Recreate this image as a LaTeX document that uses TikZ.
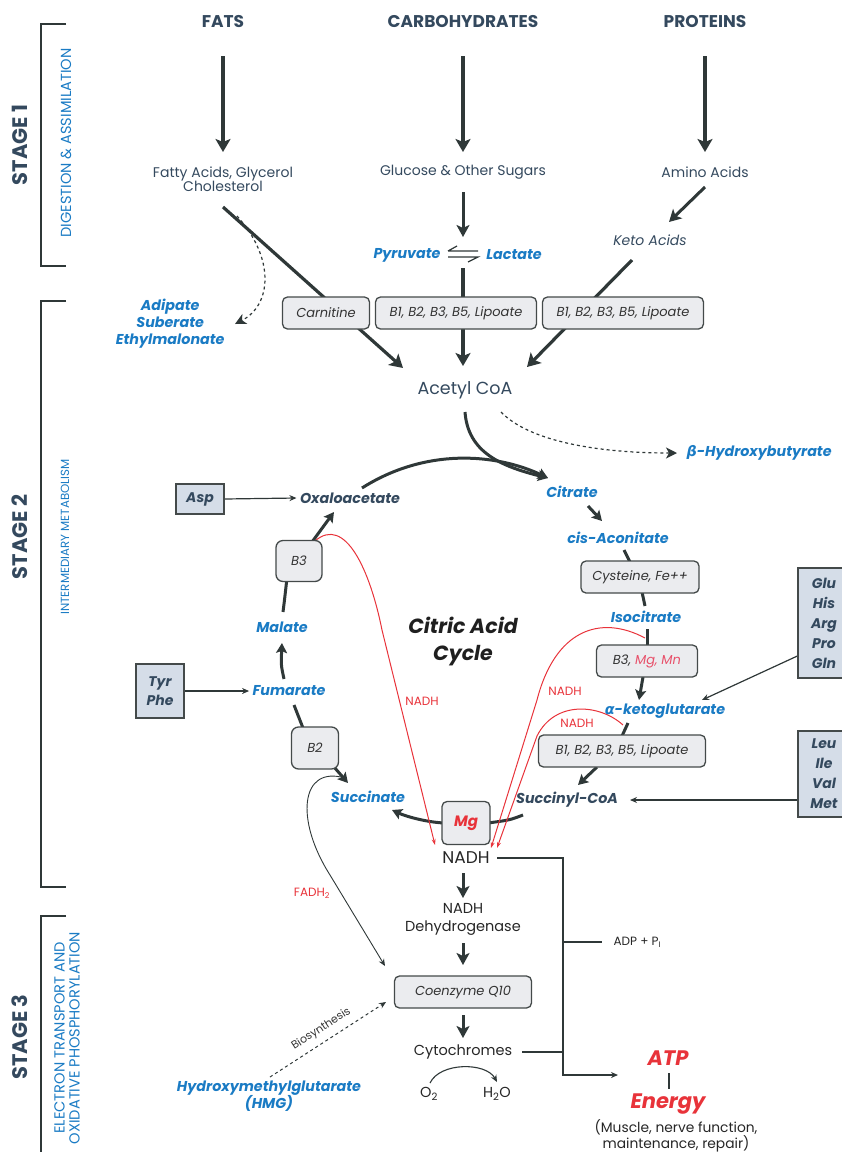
\documentclass[tikz,border=0pt]{standalone}
\usepackage{fontspec}
\setmainfont{Poppins}
\newfontfamily\grk{DejaVu Sans}
\usetikzlibrary{arrows.meta,calc,backgrounds}

\definecolor{slate}{HTML}{34495E}
\definecolor{metblue}{HTML}{1A7BC4}
\definecolor{arrowgray}{HTML}{2F3838}
\definecolor{nadhred}{HTML}{E8333A}
\definecolor{mgpink}{HTML}{E8506A}
\definecolor{boxgray}{HTML}{EBECEF}
\definecolor{aablue}{HTML}{D5DDE8}
\definecolor{edge}{HTML}{444A4A}

\tikzset{
 stage/.style={font=\fontsize{21}{24}\selectfont\bfseries, text=slate, rotate=90},
 stagesub/.style={font=\fontsize{14.6}{15}\selectfont, text=metblue, rotate=90, align=center},
 brk/.style={line width=1.3pt, draw=arrowgray},
 head/.style={font=\fontsize{17}{20}\selectfont\bfseries, text=slate},
 txt/.style={font=\fontsize{14}{14}\selectfont, text=slate, align=center},
 dark/.style={font=\fontsize{14.5}{18}\selectfont, text=black!85, align=center},
 met/.style={font=\fontsize{14.3}{17}\selectfont\bfseries\itshape, text=metblue, align=center},
 met2/.style={met, text=slate},
 vit/.style={draw=edge, fill=boxgray, rounded corners=5pt, line width=1.3pt,
   font=\fontsize{13}{15}\selectfont\itshape, text=black!80, minimum height=32pt, inner sep=2pt},
 aa/.style={draw=edge, fill=aablue, line width=1.3pt,
   font=\fontsize{14}{20}\selectfont\bfseries\itshape, text=slate, align=center, inner sep=2pt},
 flow/.style={line width=3.2pt, draw=arrowgray, -{Stealth[length=13pt,width=15pt,inset=3pt]}},
 flow2/.style={line width=3pt, draw=arrowgray, -{Stealth[length=12pt,width=13pt,inset=3pt]}},
 turn/.style={line width=3pt, draw=arrowgray, -{Stealth[length=10pt,width=11pt,inset=2pt]}},
 stub/.style={line width=3pt, draw=arrowgray},
 fine/.style={line width=1.2pt, draw=arrowgray, -{Stealth[length=7pt,width=6pt]}},
 dashy/.style={line width=1.2pt, draw=arrowgray, dashed, -{Stealth[length=11pt,width=11pt,inset=3pt]}},
 redl/.style={line width=1pt, draw=nadhred, -{Stealth[length=6pt,width=4pt]}},
 redtxt/.style={font=\fontsize{12}{14}\selectfont, text=nadhred},
}

\begin{document}
\begin{tikzpicture}[x=1pt,y=-1pt]
 \useasboundingbox (0,0) rectangle (842,1152);

	% Etapes
 \draw[brk] (66,24) -| (41,266) -- (66,266);
 \draw[brk] (66,301) -| (41,887) -- (66,887);
 \draw[brk] (66,916) -| (41,1160);
 \node[stage] (s1) at (20,145) {STAGE 1};
 \node[stage] (s2) at (20,537) {STAGE 2};
 \node[stage] (s3) at (20,1037) {STAGE 3};
 \node[stagesub] (s1t) at (66,143) {DIGESTION \& ASSIMILATION};
 \node[stagesub, font=\fontsize{11.8}{14}\selectfont] (s2t) at (65,537) {INTERMEDIARY METABOLISM};
 \node[stagesub] (s3t) at (67,1038) {ELECTRON TRANSPORT AND\\OXIDATIVE PHOSPHORYLATION};

	% Nutriments
 \node[head] (fats) at (223,22) {FATS};
 \node[head] (carb) at (463,22) {CARBOHYDRATES};
 \node[head] (prot) at (705,22) {PROTEINS};
 \node[txt] (fa) at (223,179) {Fatty Acids, Glycerol\\Cholesterol};
 \node[txt] (glu) at (463,172) {Glucose \& Other Sugars};
 \node[txt] (amino) at (705,172) {Amino Acids};
 \node[txt, font=\fontsize{14}{14}\selectfont\itshape] (keto) at (650,240) {Keto Acids};
 \node[met] (pyr) at (407,255) {Pyruvate};
 \node[met] (lac) at (514,255) {Lactate};
 \coordinate (eq) at (463,254);
 \node[met, anchor=east] (adip) at (228,324) {Adipate\\Suberate\\Ethylmalonate};
 \node[vit, minimum width=87pt] (carn) at (326,313) {Carnitine};
 \node[vit, minimum width=161pt] (bx1) at (456,313) {B1, B2, B3, B5, Lipoate};
 \node[vit, minimum width=161pt] (bx2) at (623,313) {B1, B2, B3, B5, Lipoate};
 \node[txt, font=\fontsize{17.5}{18}\selectfont] (acoa) at (465,390) {Acetyl CoA};
 \node[met, anchor=west] (bhb) at (683,453) {{\grk\bfseries\itshape β}-Hydroxybutyrate};

	% Cycle de Krebs
 \node[met] (cit) at (572,492) {Citrate};
 \node[met] (cis) at (618,538) {cis-Aconitate};
 \node[vit, minimum width=118pt] (cys) at (640,577) {Cysteine, Fe++};
 \node[met] (iso) at (646,617) {Isocitrate};
 \node[vit, minimum width=101pt] (bmm) at (647,661) {B3, \textcolor{mgpink}{Mg, Mn}};
 \node[met] (akg) at (665,711) {{\grk\bfseries\itshape α}-ketoglutarate};
 \node[vit, minimum width=167pt] (bx3) at (622,751) {B1, B2, B3, B5, Lipoate};
 \node[met2] (scoa) at (567,800) {Succinyl-CoA};
 \node[vit, minimum width=48pt, minimum height=43pt, text=nadhred,
   font=\fontsize{15}{16}\selectfont\bfseries\itshape] (mg) at (466,823) {Mg};
 \node[met] (succ) at (368,797) {Succinate};
 \node[vit, minimum width=47pt, minimum height=42pt, rounded corners=7pt] (b2) at (315,748) {B2};
 \node[met] (fum) at (289,691) {Fumarate};
 \node[met] (mal) at (282,627) {Malate};
 \node[vit, minimum width=46pt, minimum height=41pt, rounded corners=7pt] (b3) at (299,561) {B3};
 \node[met2] (oxa) at (350,498) {Oxaloacetate};
 \node[aa, minimum width=48pt, minimum height=30pt] (asp) at (200,499) {Asp};
 \node[aa, minimum width=48pt, minimum height=54pt, font=\fontsize{14}{19}\selectfont\bfseries\itshape] (tyr) at (160,691) {Tyr\\Phe};
 \node[aa, minimum width=52pt, minimum height=110pt] (glx) at (824,623) {Glu\\His\\Arg\\Pro\\Gln};
 \node[aa, minimum width=52pt, minimum height=86pt] (leu) at (824,774) {Leu\\Ile\\Val\\Met};
 \node[font=\fontsize{20.5}{27}\selectfont\bfseries\itshape, text=black!88, align=center] (tca) at (463,641) {Citric Acid\\Cycle};

	% Chaine respiratoire
 \node[dark, font=\fontsize{17}{18}\selectfont] (nadh) at (466,858) {NADH};
 \node[dark] (ndh) at (463,919) {NADH\\Dehydrogenase};
 \node[vit, minimum width=137pt] (coq) at (463,992) {Coenzyme Q10};
 \node[dark] (cyt) at (463,1052) {Cytochromes};
 \node[dark] (o2) at (429,1094) {O\textsubscript{2}};
 \node[dark] (h2o) at (497,1094) {H\textsubscript{2}O};
 \node[dark, font=\fontsize{12}{14}\selectfont, anchor=west] (adp) at (610,942) {ADP + P\textsubscript{I}};
 \node[font=\fontsize{21}{24}\selectfont\bfseries\itshape, text=nadhred] (atp) at (668,1058) {ATP};
 \node[font=\fontsize{21}{24}\selectfont\bfseries\itshape, text=nadhred] (energy) at (668,1104) {Energy};
 \node[dark, font=\fontsize{13.8}{15.5}\selectfont] (use) at (676,1136) {(Muscle, nerve function,\\maintenance, repair)};
 \node[met, align=center] (hmg) at (269,1096) {Hydroxymethylglutarate\\(HMG)};
 \coordinate (jn) at (563,1075);

 \begin{scope}[on background layer]
	% Liaisons etape 1
 \draw[flow] ($(fats)+(0,34)$) -- ($(fa)+(0,-27)$);
 \draw[flow] ($(carb)+(0,34)$) -- ($(glu)+(0,-20)$);
 \draw[flow] ($(prot)+(0,34)$) -- ($(amino)+(0,-20)$);
 \draw[flow2] ($(glu)+(0,20)$) -- ($(eq)+(0,-17)$);
 \draw[flow2] ($(amino)+(0,15)$) -- ($(keto)+(19,-18)$);
 \draw[line width=1.2pt, arrowgray] ($(eq)+(-15,-3)$) -- ($(eq)+(15,-3)$) ($(eq)+(-15,-3)$) -- ($(eq)+(-6,-8)$);
 \draw[line width=1.2pt, arrowgray] ($(eq)+(-15,3)$) -- ($(eq)+(15,3)$) -- ($(eq)+(5,8)$);
 \draw[flow] ($(fa)+(0,28)$) -- ($(acoa)+(-62,-22)$);
 \draw[flow] ($(eq)+(0,14)$) -- ($(acoa)+(-2,-24)$);
 \draw[flow] ($(keto)+(-18,20)$) -- ($(acoa)+(62,-23)$);
 \draw[dashy] ($(fa)+(14,37)$) .. controls (275,258) and (272,305) .. ($(adip.east)+(7,0)$);
 \draw[dashy] ($(acoa)+(36,22)$) .. controls (530,442) and (600,453) .. ($(bhb.west)+(-6,0)$);

	% Liaisons du cycle
 \draw[turn] ($(acoa)+(0,22)$) .. controls (468,452) and (500,466) .. ($(cit)+(-24,-14)$);
 \draw[turn] ($(oxa)+(12,-10)$) .. controls (425,448) and (495,453) .. ($(cit)+(-24,-14)$);
 \draw[turn] ($(cit)+(16,14)$) -- ($(cis)+(-16,-17)$);
 \draw[stub] ($(cis)+(6,12)$) -- ($(cys)+(-10,-15)$);
 \draw[stub] ($(cys)+(2,15)$) -- ($(iso)+(-1,-11)$);
 \draw[stub] ($(iso)+(1,12)$) -- ($(bmm)+(0,-15)$);
 \draw[turn] ($(bmm)+(-4,16)$) -- ($(akg)+(-26,-11)$);
 \draw[stub] ($(akg)+(-37,12)$) -- ($(bx3)+(0,-15)$);
 \draw[turn] ($(bx3)+(-25,16)$) -- ($(scoa)+(11,-15)$);
 \draw[stub] ($(scoa)+(-44,15)$) .. controls (510,820) .. ($(mg)+(22,0)$);
 \draw[turn] ($(mg)+(-22,0)$) .. controls (425,822) and (405,816) .. ($(succ)+(24,13)$);
 \draw[turn] ($(b2)+(19,19)$) -- ($(succ)+(-20,-14)$);
 \draw[stub] ($(fum)+(5,14)$) -- ($(b2)+(-12,-20)$);
 \draw[turn] ($(fum)+(-5,-12)$) .. controls (281,665) .. ($(mal)+(0,16)$);
 \draw[stub] ($(mal)+(1,-15)$) .. controls (285,596) .. ($(b3)+(-8,-20)$);
 \draw[turn] ($(b3)+(13,-19)$) -- ($(oxa)+(-16,14)$);
 \draw[fine] (asp.east) -- (oxa.west);
 \draw[fine] (tyr.east) -- (fum.west);
 \draw[fine] ($(glx.west)+(0,33)$) -- ($(akg)+(37,-11)$);
 \draw[fine] ($(leu.west)+(0,26)$) -- ($(scoa)+(63,0)$);

	% NADH et FADH2
 \draw[redl] ($(b3)+(16,-20)$) .. controls (345,515) and (370,570) .. (382,630) -- ($(nadh)+(-31,-13)$);
 \draw[redl] ($(bmm)+(-2,-23)$) .. controls (600,614) and (555,630) .. (537,700) -- ($(nadh)+(25,-10)$);
 \draw[redl] ($(akg)+(-42,14)$) .. controls (600,704) and (555,700) .. (537,736) -- ($(nadh)+(31,-10)$);
 \draw[fine, line width=0.9pt] ($(succ)+(-23,-19)$) .. controls (300,765) and (295,820) .. (330,875) -- ($(coq)+(-78,-26)$);
 \draw[dashy, line width=1pt, -{Stealth[length=7pt,width=6pt]}] ($(hmg)+(1,-19)$) -- node[above=3pt, sloped, font=\fontsize{11}{12}\selectfont, text=black!80] (bio) {Biosynthesis} ($(coq)+(-77,10)$);

	% Etape 3
 \draw[flow2] ($(nadh)+(-3,15)$) -- ($(ndh)+(0,-21)$);
 \draw[flow2] ($(ndh)+(0,24)$) -- ($(coq)+(0,-27)$);
 \draw[flow2] ($(coq)+(0,23)$) -- ($(cyt)+(0,-14)$);
 \draw[fine, line width=1.1pt] ($(o2)+(1,-11)$) .. controls (440,1062) and (486,1062) .. ($(h2o)+(0,-12)$);
 \draw[fine] ($(nadh)+(31,0)$) -| (jn) -- ($(atp)+(-50,17)$);
 \draw[brk] (jn |- adp) -- ($(adp.west)+(-8,0)$);
 \draw[brk] ($(cyt)+(59,0)$) -- (jn |- cyt);
 \draw[brk] ($(atp)+(1,15)$) -- ($(energy)+(1,-15)$);
 \end{scope}

 \node[redtxt] (n1) at (422,701) {NADH};
 \node[redtxt] (n2) at (565,691) {NADH};
 \node[redtxt] (n3) at (577,723) {NADH};
 \node[redtxt] (fad) at (312,893) {FADH\textsubscript{2}};
\end{tikzpicture}
\end{document}
